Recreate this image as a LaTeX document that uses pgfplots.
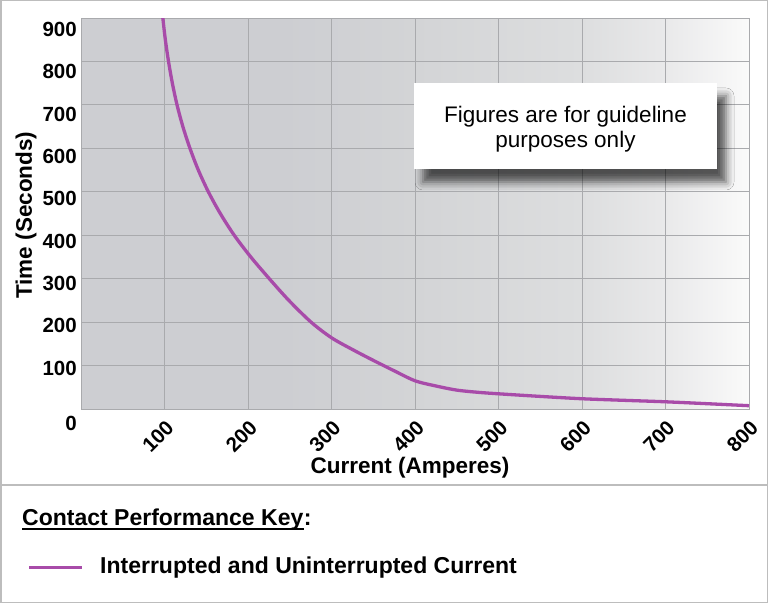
\documentclass[border=0pt]{standalone}
\usepackage{pgfplots}
\pgfplotsset{compat=1.18}
\usepackage{fontspec}
\setmainfont{Liberation Sans}
\usetikzlibrary{shadows.blur}

\definecolor{curve}{HTML}{A84BA9}
\definecolor{gridc}{HTML}{A9AAAD}
\definecolor{framec}{HTML}{BDBDBD}
\definecolor{bgA}{HTML}{CDCED2}
\definecolor{bgB}{HTML}{D3D4D6}
\definecolor{bgC}{HTML}{DDDEDF}
\definecolor{bgD}{HTML}{E9E9EA}
\definecolor{bgE}{HTML}{FAFAFA}

% value v on the x axis sits at 25+v/16 bp of the shading
\pgfdeclarehorizontalshading{plotbg}{100bp}{color(0bp)=(bgA); color(40bp)=(bgA);
  color(50bp)=(bgB); color(62.5bp)=(bgC); color(68.75bp)=(bgD); color(75bp)=(bgE); color(100bp)=(bgE)}

\pgfplotstableread{
x     y
98    900
101.0 850
104.8 800
109.4 750
115.0 700
122.0 650
130.5 600
140.5 550
152.5 500
166.8 450
183.5 400
203.3 350
225.5 300
248.9 250
275.5 200
300   164
325   137
350   112
375   88
400   65
425   53
450   43.5
475   38.5
500   35
550   29
600   23.6
650   20
700   16.6
750   12.2
800   7.6
}\curvedata

\begin{document}
\begin{tikzpicture}[x=1pt,y=1pt]
\useasboundingbox (0,0) rectangle (768,603);
\draw[framec, line width=1.5pt] (0.75,0.75) rectangle (767.25,602.25);
\draw[framec, line width=1.5pt] (0,118) -- (768,118);

\begin{axis}[
  at={(81pt,194pt)}, anchor=south west,
  width=668pt, height=391pt, scale only axis,
  xmin=0, xmax=800, ymin=0, ymax=900,
  xtick={100,200,...,800}, ytick={0,100,...,900},
  grid=major, major grid style={gridc, line width=1pt},
  axis line style={gridc, line width=1pt},
  tick style={draw=none},
  axis background/.style={shade, shading=plotbg},
  /pgf/number format/assume math mode=true,
  ticklabel style={font=\bfseries\fontsize{20.5}{20.5}\selectfont,
    inner sep=0pt, text height=14.7pt, text depth=0pt},
  yticklabel style={anchor=east, xshift=-4pt},
  yticklabel={\pgfmathparse{\tick<50 ? -14 : (900-\tick)*0.0109-11}%
    \raisebox{\pgfmathresult pt}{\pgfmathprintnumber{\tick}}},
  xticklabel style={xshift=5.4pt, yshift=-15pt, rotate=45, anchor=east},
  xlabel={Current (Amperes)}, ylabel={Time (Seconds)},
  label style={font=\bfseries\fontsize{22.5}{22.5}\selectfont, inner sep=0pt},
  xlabel style={at={(axis description cs:0.4925,-0.1662)}, anchor=base},
  ylabel style={at={(axis description cs:-0.0734,0.496)}, anchor=base},
]
\addplot[curve, line width=3.3pt, smooth] table[x=x, y=y] {\curvedata};
\end{axis}

% note box
\fill[white, blur shadow={shadow xshift=9pt, shadow yshift=-13pt,
  shadow blur radius=8pt, shadow opacity=65}] (414,434) rectangle (717,520);
\node[align=center, inner sep=0pt, font=\fontsize{22.5}{25}\selectfont]
  at (565.5,473.8) {Figures are for guideline\\purposes only};

% key
\node[anchor=base west, inner sep=0pt, font=\bfseries\fontsize{23}{23}\selectfont]
  (key) at (22,78) {Contact Performance Key};
\node[anchor=base west, inner sep=0pt, font=\bfseries\fontsize{23}{23}\selectfont]
  at (key.base east) {:};
\draw[line width=2.2pt] ([yshift=-3.7pt]key.base west) -- ([yshift=-3.7pt]key.base east);
\draw[curve, line width=3pt] (29,36) -- (82,36);
\node[anchor=base west, inner sep=0pt, font=\bfseries\fontsize{23}{23}\selectfont]
  at (100,29.7) {Interrupted and Uninterrupted Current};
\end{tikzpicture}
\end{document}
